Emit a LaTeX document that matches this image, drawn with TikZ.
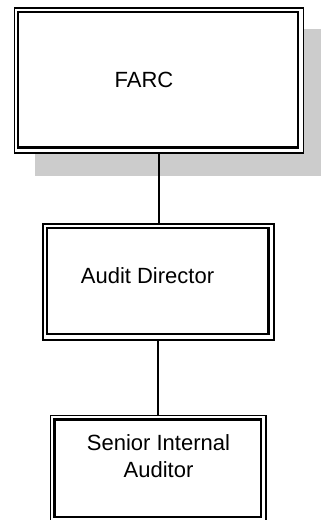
\documentclass[tikz,border=0pt]{standalone}
\usepackage{fontspec}
\setmainfont{Liberation Sans}
\begin{document}
\begin{tikzpicture}[x=1pt,y=-1pt,
  boxouter/.style={draw=black,line width=1.5pt,fill=white,inner sep=0pt,anchor=north west},
  boxinner/.style={draw=black,line width=2.2pt},
  shade/.style={fill=black!20,draw=none},
  lbl/.style={inner sep=0pt,font=\fontsize{22pt}{26.6pt}\selectfont,align=center},
  link/.style={draw=black,line width=1.7pt}]
\useasboundingbox (0,0) rectangle (321,520);
\clip (0,0) rectangle (321,520);
% drop shadow behind the top box
\fill[shade] (35,29) rectangle (330,176);
% boxes: outer frame as node, inner frame drawn inside it
\node[boxouter,minimum width=289pt,minimum height=145pt] (farc) at (13.5,7) {};
\draw[boxinner] (18,12) rectangle (298,147.5);
\node[boxouter,minimum width=231pt,minimum height=116pt] (audit) at (42,223) {};
\draw[boxinner] (47,228) rectangle (268.5,334);
\node[boxouter,minimum width=215.2pt,minimum height=111pt] (sia) at (49.8,414.5) {};
\draw[boxinner] (54.5,419.5) rectangle (261,517);
% labels
\node[lbl] (farct) at (144,80) {FARC};
\node[lbl] (auditt) at (147.5,276) {Audit Director};
\node[lbl,anchor=north] (siat) at (158.5,434.5) {Senior Internal\\Auditor};
% reporting lines
\draw[link] (farc.south) -- (farc.south |- audit.north);
\draw[link] (audit.south) -- (audit.south |- sia.north);
\end{tikzpicture}
\end{document}
